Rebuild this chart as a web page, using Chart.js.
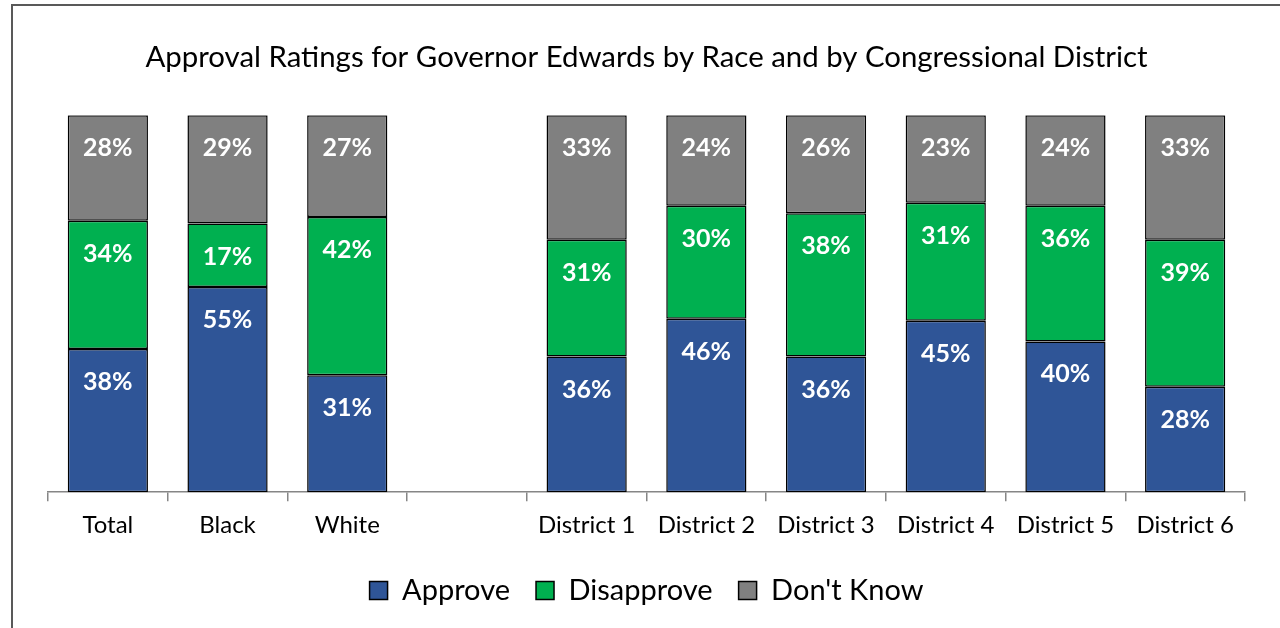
<!DOCTYPE html>
<html>
  <head>
    <meta charset="utf-8">
    <title>Approval Ratings</title>
    <script src="https://cdn.jsdelivr.net/npm/chart.js"></script>
    <style>
      body { margin:0; background:#fff; }
      #frame { position:absolute; left:11px; top:4px; width:1300px; height:700px;
               border-left:2px solid #595959; border-top:2px solid #595959; }
      #wrap { position:absolute; left:0; top:0; width:1280px; height:628px; }
    </style>
  </head>
  <body>
	<div id="frame"></div>
	<div id="wrap"><canvas id="chart"></canvas></div>
    <script>
	var categories = ['Total', 'Black', 'White', '', 'District 1', 'District 2', 'District 3', 'District 4', 'District 5', 'District 6'];
	var approve    = [38, 55, 31, null, 36, 46, 36, 45, 40, 28];
	var disapprove = [34, 17, 42, null, 31, 30, 38, 31, 36, 39];
	var dontKnow   = [28, 29, 27, null, 33, 24, 26, 23, 24, 33];

	// bars are drawn as 100% stacks, labels show the raw numbers
	function share(arr) {
		return arr.map(function(v, i) {
			if (v === null) return null;
			var sum = approve[i] + disapprove[i] + dontKnow[i];
			return v / sum * 100;
		});
	}
	var raw = [approve, disapprove, dontKnow];

	var labelPlugin = {
		id: 'segLabels',
		afterDatasetsDraw: function(chart) {
			var ctx = chart.ctx;
			ctx.save();
			ctx.fillStyle = '#fff';
			ctx.font = 'bold 25px Lato';
			ctx.textAlign = 'center';
			ctx.textBaseline = 'middle';
			chart.data.datasets.forEach(function(ds, d) {
				chart.getDatasetMeta(d).data.forEach(function(el, i) {
					if (raw[d][i] === null) return;
					var top = Math.min(el.y, el.base);
					ctx.fillText(raw[d][i] + '%', el.x, top + 33);
				});
			});
			ctx.restore();
		}
	};

	function makeSet(label, values, color) {
		return {
			label: label,
			data: share(values),
			backgroundColor: color,
			borderColor: '#000',
			borderWidth: 1.5,
			borderSkipped: false,
			categoryPercentage: 1,
			barPercentage: 0.67
		};
	}

	const config = {
		type: 'bar',
		data: {
			labels: categories,
			datasets: [
				makeSet('Approve', approve, '#2F5597'),
				makeSet('Disapprove', disapprove, '#00B050'),
				makeSet("Don't Know", dontKnow, '#808080')
			]
		},
		options: {
			responsive: false,
			animation: false,
			layout: { padding: { left: 48, right: 35, top: 0, bottom: 13 } },
			plugins: {
				title: {
					display: true,
					text: 'Approval Ratings for Governor Edwards by Race and by Congressional District',
					color: '#000',
					font: { family: 'Lato', size: 29.4, weight: 'normal' },
					padding: { top: 40, bottom: 40 }
				},
				legend: {
					position: 'bottom',
					labels: {
						color: '#000',
						font: { family: 'Lato', size: 29 },
						boxWidth: 18,
						boxHeight: 18,
						padding: 26
					}
				},
				tooltip: { enabled: false }
			},
			scales: {
				x: {
					stacked: true,
					border: { display: true, color: '#868686', width: 1.5 },
					grid: { drawOnChartArea: false, color: '#868686', tickLength: 9, lineWidth: 1.5 },
					ticks: { color: '#000', font: { family: 'Lato', size: 24 }, padding: 10, maxRotation: 0 }
				},
				y: {
					stacked: true,
					display: false,
					min: 0,
					max: 100
				}
			}
		},
		plugins: [labelPlugin]
	};
	var cv = document.getElementById('chart');
	cv.width = 1280; cv.height = 628;
	const MyChart = new Chart(cv, config);
    </script>
  </body>
</html>
